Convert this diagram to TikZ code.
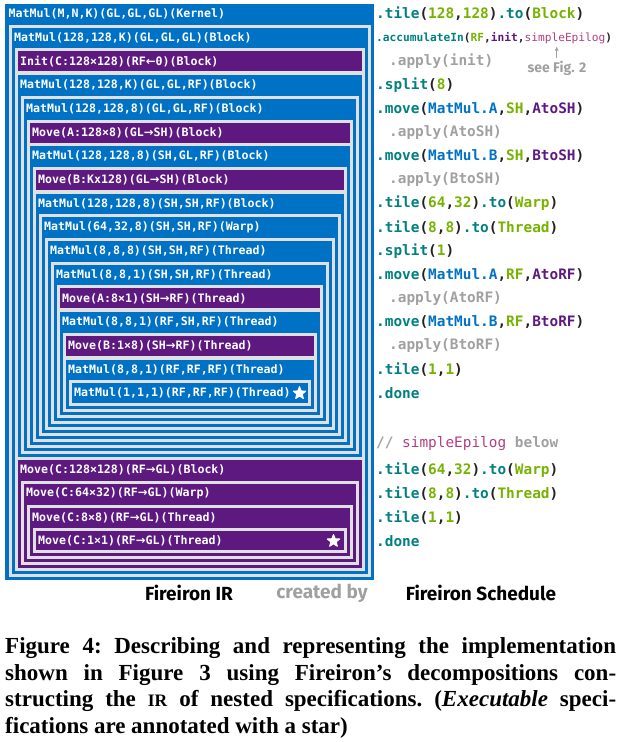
\documentclass[tikz,border=0pt]{standalone}
\usepackage{fontspec}
\usepackage{tikz}
\usetikzlibrary{arrows.meta,shapes.geometric}
\newfontfamily\specfont{DejaVu Sans Mono}
\newfontfamily\arrowfont{DejaVu Sans}
\newfontfamily\labelfont{Fira Sans}
\newfontfamily\capfont{Liberation Serif}
\definecolor{specblue}{RGB}{0,114,198}
\definecolor{movepurple}{RGB}{94,25,128}
\definecolor{gapgray}{RGB}{224,224,224}
\definecolor{codeteal}{RGB}{0,128,128}
\definecolor{codegreen}{RGB}{118,178,0}
\definecolor{codegray}{RGB}{160,160,160}
\definecolor{codedark}{RGB}{34,34,34}
\definecolor{epipink}{RGB}{176,64,128}
\newcommand{\cop}[1]{\textcolor{codeteal}{#1}}
\newcommand{\carg}[1]{\textcolor{codegreen}{#1}}
\newcommand{\cspec}[1]{\textcolor{specblue}{#1}}
\newcommand{\cvar}[1]{\textcolor{movepurple}{#1}}
\newcommand{\cepi}[1]{\textcolor{epipink}{\mdseries#1}}
\newcommand{\toarrow}{{\arrowfont\bfseries →}}
\newcommand{\fromarrow}{{\arrowfont\bfseries ←}}

\begin{document}
\begin{tikzpicture}[x=1pt,y=-1pt,>=Latex,
specbox/.style={draw=gapgray,line width=3pt,fill=specblue},
movebox/.style={specbox,fill=movepurple},
speclab/.style={anchor=west,inner sep=0pt,text=white,font=\specfont\bfseries\fontsize{11.6}{11.6}\selectfont},
sched/.style={anchor=west,inner sep=0pt,text=codedark,font=\specfont\bfseries\fontsize{14.4}{14.4}\selectfont},
applied/.style={sched,text=codegray},
execstar/.style={star,star points=5,star point ratio=2.3,minimum size=13pt,inner sep=0pt,fill=white,draw=white,line width=1pt,line join=round},
footlab/.style={font=\labelfont\bfseries\fontsize{19}{19}\selectfont},
capline/.style={anchor=base west,inner sep=0pt,font=\capfont\bfseries\frenchspacing\fontsize{23}{27}\selectfont}]
\useasboundingbox (0,0) rectangle (625,742);
\fill[specblue] (5,4) rectangle (374,580);
\draw[specbox] (10,26.2) rectangle (369.5,575.5);
\draw[movebox] (16,49.9) rectangle (363.5,72.9);
\draw[specbox] (16,73.6) rectangle (363.5,458.7);
\draw[specbox] (22,97.3) rectangle (357.5,452.7);
\draw[movebox] (28,121.0) rectangle (351.5,144.0);
\draw[specbox] (28,144.7) rectangle (351.5,446.7);
\draw[movebox] (34,168.4) rectangle (345.5,191.4);
\draw[specbox] (34,192.1) rectangle (345.5,440.7);
\draw[specbox] (40,215.8) rectangle (339.5,434.7);
\draw[specbox] (46,239.5) rectangle (333.5,428.7);
\draw[specbox] (52,263.2) rectangle (327.5,422.7);
\draw[movebox] (58,286.9) rectangle (321.5,309.9);
\draw[specbox] (58,310.6) rectangle (321.5,416.7);
\draw[movebox] (64,334.3) rectangle (315.5,357.3);
\draw[specbox] (64,358.0) rectangle (315.5,410.7);
\draw[specbox] (70,381.7) rectangle (309.5,404.7);
\draw[movebox] (16,458.5) rectangle (363.5,569.5);
\draw[movebox] (22,482) rectangle (357.5,563.5);
\draw[movebox] (28,506) rectangle (351.5,557.5);
\draw[movebox] (34,529.5) rectangle (345.5,551.5);
\node[speclab] (kernel) at (8.5,14) {MatMul(M,N,K)(GL,GL,GL)(Kernel)};
\node[speclab] (blockK) at (14,37.7) {MatMul(128,128,K)(GL,GL,GL)(Block)};
\node[speclab] (initC) at (20,61.4) {Init(C:128×128)(RF\fromarrow0)(Block)};
\node[speclab] (blockKrf) at (20,85.1) {MatMul(128,128,K)(GL,GL,RF)(Block)};
\node[speclab] (block8) at (26,108.8) {MatMul(128,128,8)(GL,GL,RF)(Block)};
\node[speclab] (moveAsh) at (32,132.5) {Move(A:128×8)(GL\toarrow SH)(Block)};
\node[speclab] (block8sh) at (32,156.2) {MatMul(128,128,8)(SH,GL,RF)(Block)};
\node[speclab] (moveBsh) at (38,179.9) {Move(B:Kx128)(GL\toarrow SH)(Block)};
\node[speclab] (block8shsh) at (38,203.6) {MatMul(128,128,8)(SH,SH,RF)(Block)};
\node[speclab] (warp) at (44,227.3) {MatMul(64,32,8)(SH,SH,RF)(Warp)};
\node[speclab] (thread8) at (50,251.0) {MatMul(8,8,8)(SH,SH,RF)(Thread)};
\node[speclab] (thread1) at (56,274.7) {MatMul(8,8,1)(SH,SH,RF)(Thread)};
\node[speclab] (moveArf) at (62,298.4) {Move(A:8×1)(SH\toarrow RF)(Thread)};
\node[speclab] (thread1rf) at (62,322.1) {MatMul(8,8,1)(RF,SH,RF)(Thread)};
\node[speclab] (moveBrf) at (68,345.8) {Move(B:1×8)(SH\toarrow RF)(Thread)};
\node[speclab] (thread1rfrf) at (68,369.5) {MatMul(8,8,1)(RF,RF,RF)(Thread)};
\node[speclab] (scalar) at (74,393.2) {MatMul(1,1,1)(RF,RF,RF)(Thread)};
\node[speclab] (moveCblock) at (20,470) {Move(C:128×128)(RF\toarrow GL)(Block)};
\node[speclab] (moveCwarp) at (26,493.5) {Move(C:64×32)(RF\toarrow GL)(Warp)};
\node[speclab] (moveCthread) at (32,517.5) {Move(C:8×8)(RF\toarrow GL)(Thread)};
\node[speclab] (moveCscalar) at (38,541) {Move(C:1×1)(RF\toarrow GL)(Thread)};
\node[execstar] (star1) at (299.5,393.2) {};
\node[execstar] (star2) at (333.5,541) {};
\node[sched] (s0) at (376,14) {\cop{.tile}(\carg{128},\carg{128})\cop{.to}(\carg{Block})};
\node[sched,font=\specfont\bfseries\fontsize{11.2}{11.2}\selectfont] (s1) at (376,37.7) {\cop{.accumulateIn}(\carg{RF},\cvar{init},\cepi{simpleEpilog})};
\node[applied] (s2) at (389,61.4) {.apply(init)};
\node[font=\labelfont\bfseries\fontsize{14}{14}\selectfont,text=codegray,inner sep=1pt] (seefig) at (557,68.3) {see Fig. 2};
\coordinate (epitip) at (556.7,46.5);
\draw[-{Latex[length=4pt,width=4pt]},codegray,line width=1pt] (seefig.north) ++(-0.3,-2) -- (epitip);
\node[sched] (s3) at (376,85.1) {\cop{.split}(\carg{8})};
\node[sched] (s4) at (376,108.8) {\cop{.move}(\cspec{MatMul.A},\carg{SH},\cvar{AtoSH})};
\node[applied] (s5) at (389,132.5) {.apply(AtoSH)};
\node[sched] (s6) at (376,156.2) {\cop{.move}(\cspec{MatMul.B},\carg{SH},\cvar{BtoSH})};
\node[applied] (s7) at (389,179.9) {.apply(BtoSH)};
\node[sched] (s8) at (376,203.6) {\cop{.tile}(\carg{64},\carg{32})\cop{.to}(\carg{Warp})};
\node[sched] (s9) at (376,227.3) {\cop{.tile}(\carg{8},\carg{8})\cop{.to}(\carg{Thread})};
\node[sched] (s10) at (376,251.0) {\cop{.split}(\carg{1})};
\node[sched] (s11) at (376,274.7) {\cop{.move}(\cspec{MatMul.A},\carg{RF},\cvar{AtoRF})};
\node[applied] (s12) at (389,298.4) {.apply(AtoRF)};
\node[sched] (s13) at (376,322.1) {\cop{.move}(\cspec{MatMul.B},\carg{RF},\cvar{BtoRF})};
\node[applied] (s14) at (389,345.8) {.apply(BtoRF)};
\node[sched] (s15) at (376,369.5) {\cop{.tile}(\carg{1},\carg{1})};
\node[sched] (s16) at (376,393.2) {\cop{.done}};
\node[applied] (e0) at (376,444) {// \cepi{simpleEpilog} below};
\node[sched] (e1) at (376,470) {\cop{.tile}(\carg{64},\carg{32})\cop{.to}(\carg{Warp})};
\node[sched] (e2) at (376,493.5) {\cop{.tile}(\carg{8},\carg{8})\cop{.to}(\carg{Thread})};
\node[sched] (e3) at (376,517.5) {\cop{.tile}(\carg{1},\carg{1})};
\node[sched] (e4) at (376,541) {\cop{.done}};
\node[footlab] (irlab) at (189,593) {Fireiron IR};
\node[footlab,text=codegray] (bylab) at (322,593) {created by};
\node[footlab] (schedlab) at (481,593) {Fireiron Schedule};
\node[capline] (cap1) at (5,653.3) {\makebox[611pt][s]{Figure 4: Describing and representing the implementation}};
\node[capline] (cap2) at (5,680) {\makebox[611pt][s]{shown in Figure 3 using Fireiron’s decompositions con-}};
\node[capline] (cap3) at (5,706.7) {\makebox[611pt][s]{structing the {\fontsize{17.5}{17.5}\selectfont IR} of nested specifications. (\textit{Executable} speci-}};
\node[capline] (cap4) at (5,733.3) {fications are annotated with a star)};
\end{tikzpicture}
\end{document}
